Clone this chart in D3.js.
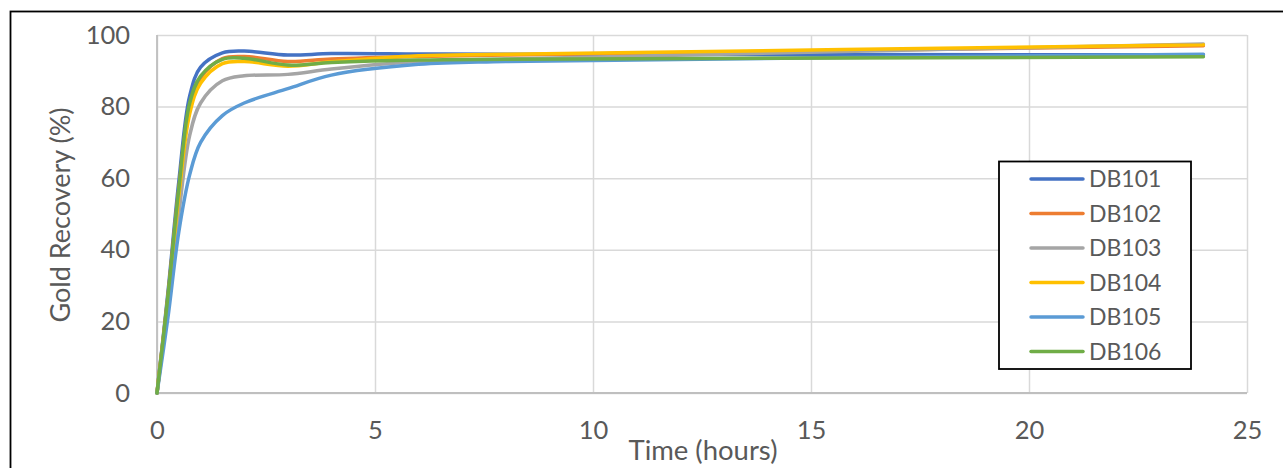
<!DOCTYPE html>
<html>
<head>
  <meta charset="utf-8">
  <script src="https://cdn.jsdelivr.net/npm/d3@7"></script>
  <style>
    body { margin: 0; background: #fff; }
    text { font-family: Lato, "Open Sans", sans-serif; fill: #595959; }
  </style>
</head>
<body>
<script type="text/javascript">
  // leach time (hours) and gold recovery (%)
  var hours = [0, 0.25, 0.5, 0.75, 1, 1.5, 2, 3, 4, 6, 8, 24];
  var db101 = [0, 28, 59, 83, 91, 95.0, 95.5, 94.4, 94.8, 94.7, 94.6, 94.5];
  var db102 = [0, 27, 57, 80, 88, 93.4, 94.0, 92.6, 93.3, 94.0, 94.4, 97.0];
  var db103 = [0, 24, 50, 72, 81, 87.2, 88.6, 89.0, 90.5, 92.6, 93.3, 97.5];
  var db104 = [0, 26, 55, 78, 86.5, 92.0, 92.6, 91.3, 92.5, 94.2, 94.6, 97.3];
  var db105 = [0, 21, 45, 61, 70, 77.5, 81.0, 85.0, 88.8, 91.8, 92.6, 94.6];
  var db106 = [0, 27, 57, 81, 88.5, 93.2, 93.5, 91.6, 92.3, 93.0, 93.2, 93.9];

  var seriesNames = ["DB101", "DB102", "DB103", "DB104", "DB105", "DB106"];
  var seriesValues = [db101, db102, db103, db104, db105, db106];

  var xTicks = [0, 5, 10, 15, 20, 25];
  var yTicks = [0, 20, 40, 60, 80, 100];

  var colors = ["#4472C4", "#ED7D31", "#A5A5A5", "#FFC000", "#5B9BD5", "#70AD47"];

  var W = 1283, H = 468;
  var plotL = 157, plotR = 1247, plotT = 35, plotB = 393;

  var svg = d3.select("body").append("svg")
      .attr("width", W)
      .attr("height", H);

  // outer chart border
  svg.append("rect")
      .attr("x", 10.5).attr("y", 11.5)
      .attr("width", 1290).attr("height", 480)
      .attr("fill", "none")
      .attr("stroke", "#000")
      .attr("stroke-width", 1.8);

  var x = d3.scaleLinear().domain([0, 25]).range([plotL, plotR]);
  var y = d3.scaleLinear().domain([0, 100]).range([plotB, plotT]);

  // y gridlines + labels
  var gy = svg.append("g")
      .attr("transform", "translate(" + plotL + ",0)")
      .call(d3.axisLeft(y).tickValues(yTicks).tickSize(-(plotR - plotL)).tickPadding(27));
  gy.select(".domain").remove();
  gy.selectAll("line").attr("stroke", "#d9d9d9").attr("stroke-width", 1.5);
  gy.selectAll("text").style("font-size", "25.5px").style("font-family", "Lato").attr("fill", "#595959");

  // x gridlines + labels
  var gx = svg.append("g")
      .attr("transform", "translate(0," + plotB + ")")
      .call(d3.axisBottom(x).tickValues(xTicks).tickSize(-(plotB - plotT)).tickPadding(28));
  gx.select(".domain").remove();
  gx.selectAll("line").attr("stroke", "#d9d9d9").attr("stroke-width", 1.5);
  gx.selectAll("text").style("font-size", "25.5px").style("font-family", "Lato").attr("fill", "#595959");

  // axis lines
  svg.append("line")
      .attr("x1", plotL).attr("x2", plotR).attr("y1", plotB).attr("y2", plotB)
      .attr("stroke", "#bfbfbf").attr("stroke-width", 1.8);
  svg.append("line")
      .attr("x1", plotL).attr("x2", plotL).attr("y1", plotT).attr("y2", plotB)
      .attr("stroke", "#bfbfbf").attr("stroke-width", 1.8);

  // axis titles
  svg.append("text")
      .attr("transform", "translate(70,215) rotate(-90)")
      .attr("text-anchor", "middle")
      .attr("textLength", 215)
      .attr("lengthAdjust", "spacingAndGlyphs")
      .style("font-size", "26px")
      .text("Gold Recovery (%)");
  svg.append("text")
      .attr("x", 703).attr("y", 460)
      .attr("text-anchor", "middle")
      .attr("textLength", 149)
      .attr("lengthAdjust", "spacingAndGlyphs")
      .style("font-size", "26px")
      .text("Time (hours)");

  // series
  var line = d3.line()
      .x(function(d, i) { return x(hours[i]); })
      .y(function(d) { return y(d); })
      .curve(d3.curveCatmullRom.alpha(0.5));

  svg.append("g").selectAll("path")
      .data(seriesValues)
      .enter().append("path")
        .attr("d", line)
        .attr("fill", "none")
        .attr("stroke", function(d, i) { return colors[i]; })
        .attr("stroke-width", 3.5)
        .attr("stroke-linejoin", "round")
        .attr("stroke-linecap", "round");

  // legend
  var legend = svg.append("g");
  legend.append("rect")
      .attr("x", 999).attr("y", 161.5)
      .attr("width", 192).attr("height", 207.5)
      .attr("fill", "#fff")
      .attr("stroke", "#000")
      .attr("stroke-width", 1.8);

  var item = legend.selectAll(".item")
      .data(seriesNames)
      .enter().append("g")
        .attr("class", "item")
        .attr("transform", function(d, i) { return "translate(0," + (179 + i * 34.5) + ")"; });
  item.append("line")
      .attr("x1", 1031).attr("x2", 1083)
      .attr("stroke", function(d, i) { return colors[i]; })
      .attr("stroke-width", 3.5)
      .attr("stroke-linecap", "round");
  item.append("text")
      .attr("x", 1089).attr("dy", "0.36em")
      .style("font-size", "23px")
      .text(function(d) { return d; });
</script>
</body>
</html>
